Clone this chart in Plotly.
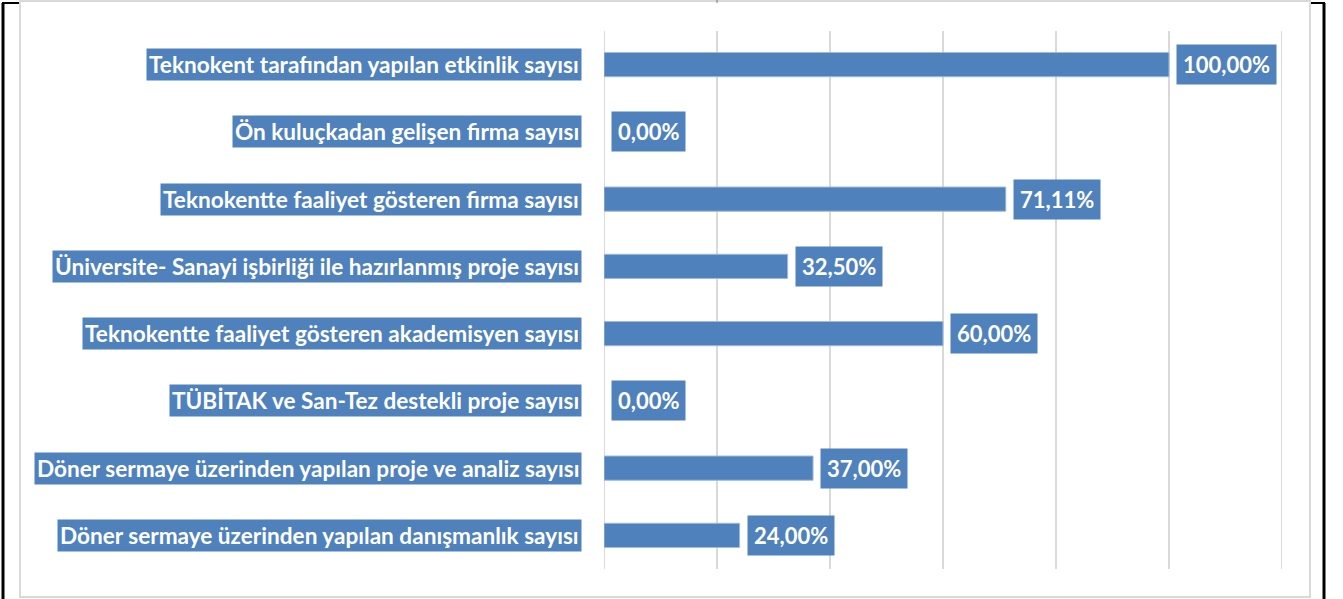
import plotly.graph_objects as go

categories = [
    "Teknokent tarafından yapılan etkinlik sayısı",
    "Ön kuluçkadan gelişen firma sayısı",
    "Teknokentte faaliyet gösteren firma sayısı",
    "Üniversite- Sanayi işbirliği ile hazırlanmış proje sayısı",
    "Teknokentte faaliyet gösteren akademisyen sayısı",
    "TÜBİTAK ve San-Tez destekli proje sayısı",
    "Döner sermaye üzerinden yapılan proje ve analiz sayısı",
    "Döner sermaye üzerinden yapılan danışmanlık sayısı",
]
values = [100.00, 0.00, 71.11, 32.50, 60.00, 0.00, 37.00, 24.00]

BLUE = "#4F81BD"
FONT = "Lato"

def fmt(v):
    return f"{v:.2f}".replace(".", ",") + "%"

fig = go.Figure()
fig.add_trace(go.Bar(
    x=values, y=categories, orientation="h",
    marker=dict(color=BLUE,
                line=dict(color="#9fbadc", width=[1 if v > 0 else 0 for v in values])),
    width=0.36, hoverinfo="skip",
))

annotations = []
for c, v in zip(categories, values):
    annotations.append(dict(
        x=0, y=c, xref="x", yref="y", xanchor="right", yanchor="middle",
        xshift=-22, text=f"<b>{c}</b>", showarrow=False,
        font=dict(family=FONT, size=22.6, color="white"),
        bgcolor=BLUE, borderpad=2,
    ))
    annotations.append(dict(
        x=v, y=c, xref="x", yref="y", xanchor="left", yanchor="middle",
        xshift=7, text=f"<b>{fmt(v)}</b>", showarrow=False,
        font=dict(family=FONT, size=22, color="white"),
        bgcolor=BLUE, borderpad=6,
    ))

W, H = 1343, 599
L, R, T, B = 604, 61, 31, 30
pw, ph = W - L - R, H - T - B

def px(xp):
    return (xp - L) / pw

def py(yp):
    return (H - B - yp) / ph

shapes = [
    # edge gridlines at 0 and 120
    dict(type="line", xref="x", yref="paper", x0=0, x1=0, y0=0, y1=1,
         line=dict(color="#d9d9d9", width=2), layer="below"),
    dict(type="line", xref="x", yref="paper", x0=120, x1=120, y0=0, y1=1,
         line=dict(color="#d9d9d9", width=2), layer="below"),
    # inner gray frame
    dict(type="rect", xref="paper", yref="paper", x0=px(20), x1=px(1310), y0=py(597), y1=py(1),
         line=dict(color="#d9d9d9", width=2), layer="below"),
    # outer black border pieces
    dict(type="line", xref="paper", yref="paper", x0=px(3), x1=px(3), y0=py(599), y1=py(3),
         line=dict(color="black", width=3)),
    dict(type="line", xref="paper", yref="paper", x0=px(1324), x1=px(1324), y0=py(599), y1=py(3),
         line=dict(color="black", width=3)),
    dict(type="line", xref="paper", yref="paper", x0=px(2), x1=px(19), y0=py(3), y1=py(3),
         line=dict(color="black", width=2)),
    dict(type="line", xref="paper", yref="paper", x0=px(1311), x1=px(1325), y0=py(3), y1=py(3),
         line=dict(color="black", width=2)),
    dict(type="line", xref="paper", yref="paper", x0=px(717), x1=px(717), y0=py(3), y1=py(0),
         line=dict(color="#777777", width=1)),
]

fig.update_layout(
    width=W, height=H,
    margin=dict(l=L, r=R, t=T, b=B),
    paper_bgcolor="white", plot_bgcolor="white",
    showlegend=False,
    annotations=annotations,
    shapes=shapes,
    xaxis=dict(range=[0, 120], dtick=20, showgrid=True, gridcolor="#d9d9d9", gridwidth=2,
               showticklabels=False, zeroline=False, showline=False, ticks="", fixedrange=True),
    yaxis=dict(autorange="reversed", showticklabels=False, showgrid=False, zeroline=False,
               showline=False, ticks="", fixedrange=True),
)

fig.write_html(
    "out.html",
    config={"displayModeBar": False},
    post_script="document.body.style.margin='0';document.body.style.overflow='hidden';",
)
